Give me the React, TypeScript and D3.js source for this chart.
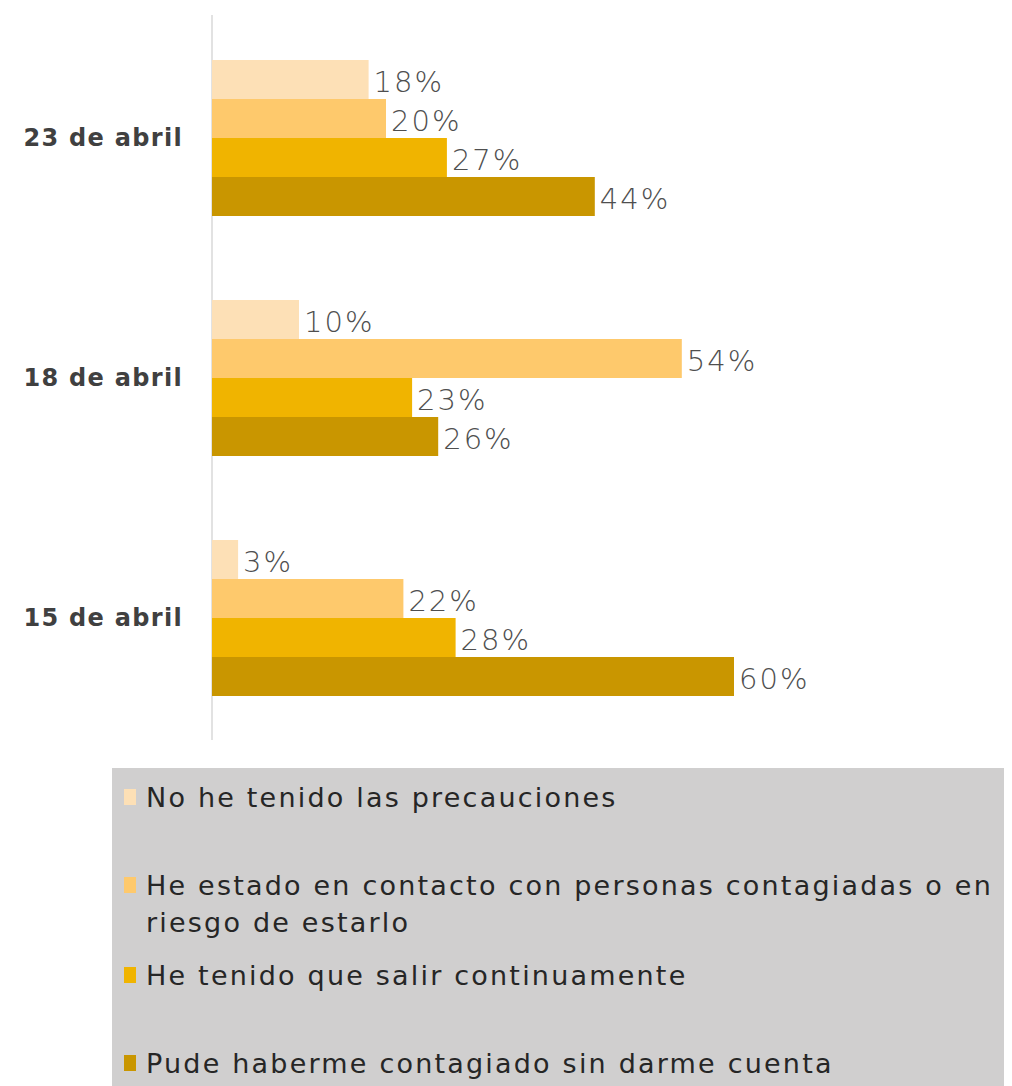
import React from "react";
import * as d3 from "d3";

const categories = ["23 de abril", "18 de abril", "15 de abril"];
const seriesNames = [
  "No he tenido las precauciones",
  "He estado en contacto con personas contagiadas o en riesgo de estarlo",
  "He tenido que salir continuamente",
  "Pude haberme contagiado sin darme cuenta",
];
const seriesColors = ["#fde0b6", "#fec96c", "#f0b400", "#c99600"];
// values[series][category]
const noPrecauciones = [18, 10, 3];
const contacto = [20, 54, 22];
const salir = [27, 23, 28];
const sinDarme = [44, 26, 60];
const values = [noPrecauciones, contacto, salir, sinDarme];

const legendLines = [
  ["No he tenido las precauciones"],
  ["He estado en contacto con personas contagiadas o en", "riesgo de estarlo"],
  ["He tenido que salir continuamente"],
  ["Pude haberme contagiado sin darme cuenta"],
];

export default function App() {
  const W = 1012, H = 1086;
  const axisX = 212;
  const x = d3.scaleLinear().domain([0, 60]).range([axisX, 734]);
  const y = d3.scaleBand().domain(categories).range([18, 738]).paddingInner(0.35).paddingOuter(0.175);
  const inner = d3.scaleBand().domain(d3.range(4).map(String)).range([0, y.bandwidth()]);

  const legendY = [797, 885, 975, 1063];

  return (
    <svg width={W} height={H} style={{ position: "absolute", left: 0, top: 0, background: "#fff" }}>
      <line x1={axisX} x2={axisX} y1={15} y2={740} stroke="#d9d9d9" strokeWidth={1.5} />
      {categories.map((c, ci) => (
        <g key={c}>
          <text x={183} y={(y(c) as number) + y.bandwidth() / 2} textAnchor="end" dominantBaseline="central"
            fontFamily="'DejaVu Sans', sans-serif" fontWeight="bold" fontSize={24} letterSpacing={1.3} fill="#404040">{c}</text>
          {values.map((vals, si) => {
            const by = (y(c) as number) + (inner(String(si)) as number);
            return (
              <g key={si}>
                <rect x={axisX} y={by} width={x(vals[ci]) - axisX} height={inner.bandwidth()} fill={seriesColors[si]} />
                <text x={x(vals[ci]) + 5} y={by + inner.bandwidth() / 2 + 2} dominantBaseline="central"
                  fontFamily="'DejaVu Sans', sans-serif" fontWeight={200} fontSize={29} letterSpacing={2}
                  fill="#4f4f4f">{vals[ci]}%</text>
              </g>
            );
          })}
        </g>
      ))}
      <rect x={112} y={768} width={892} height={318} fill="#d0cfcf" />
      {legendLines.map((lines, si) => (
        <g key={si}>
          <rect x={124} y={legendY[si] - 8} width={12} height={16} fill={seriesColors[si]} />
          {lines.map((l, li) => (
            <text key={li} x={146} y={legendY[si] + li * 37} dominantBaseline="central"
              fontFamily="'DejaVu Sans', sans-serif" fontSize={27} letterSpacing={2.2} fill="#262626">{l}</text>
          ))}
        </g>
      ))}
    </svg>
  );
}
